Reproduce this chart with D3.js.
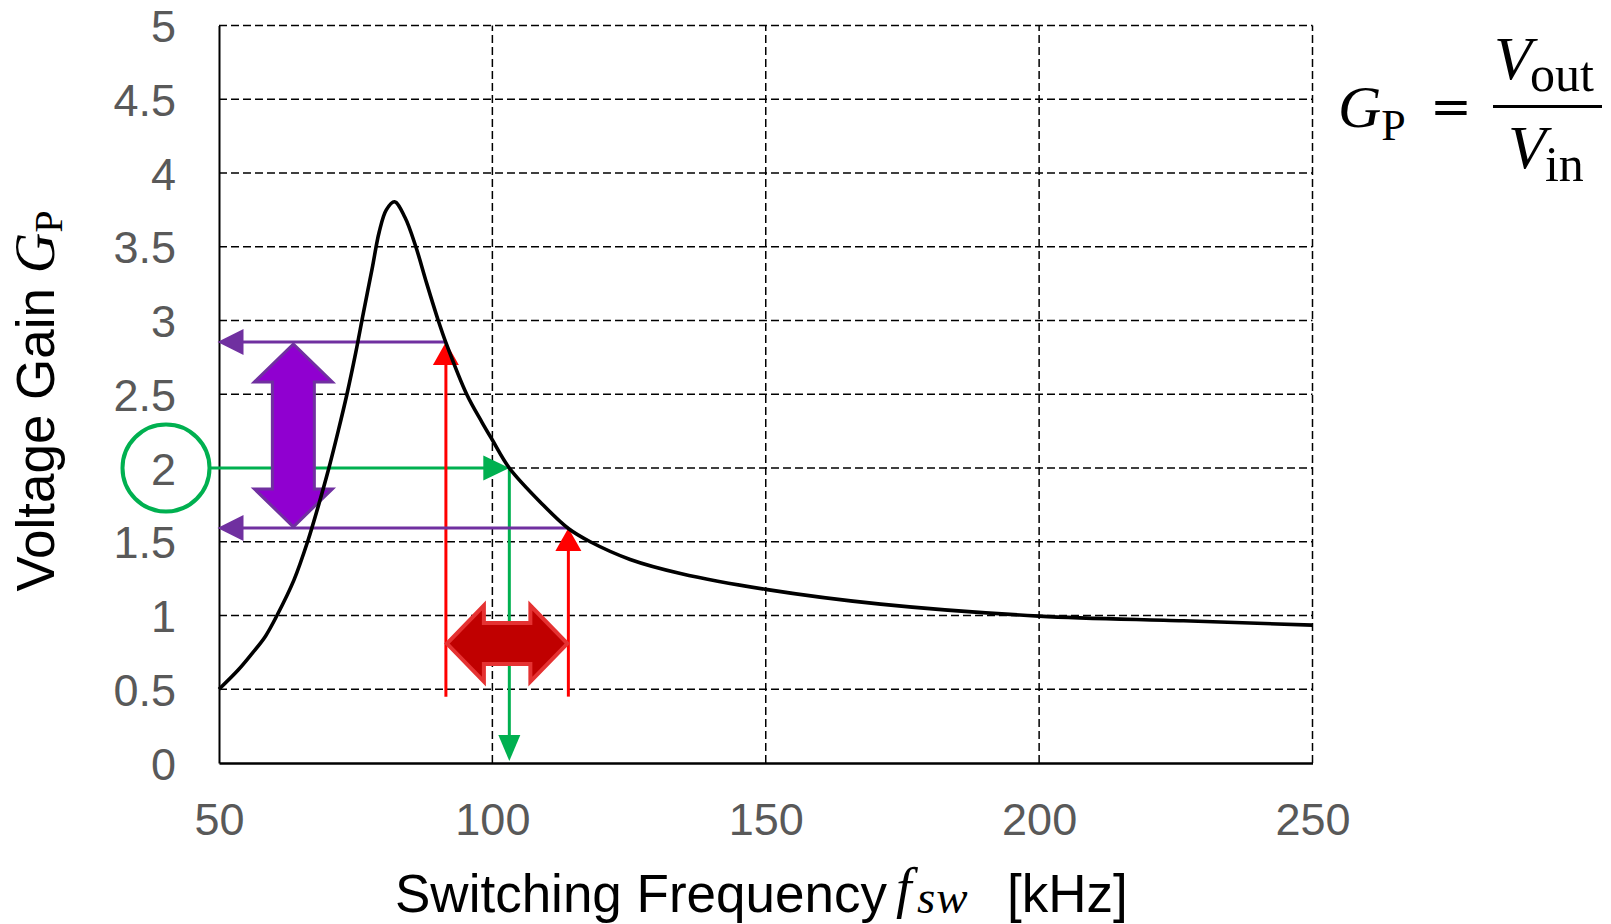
<!DOCTYPE html>
<html>
<head>
<meta charset="utf-8">
<script src="https://cdn.jsdelivr.net/npm/d3@7"></script>
<style>
  body { margin: 0; background: #fff; }
  svg { display: block; }
  .tick-label { font-family: "Liberation Sans", Arial, sans-serif; font-size: 45px; fill: #595959; }
  .axis-title { font-family: "Liberation Sans", Arial, sans-serif; fill: #000; }
  .math { font-family: "Liberation Serif", "DejaVu Serif", serif; fill: #000; }
</style>
</head>
<body>
<div id="chart"></div>
<script>
// gain curve (kHz, Gp)
const freq = [50, 53.5, 56, 58.5, 60.6, 63.7, 66.2, 68.3, 70.1, 71.8, 73.4, 75, 76.4, 78,
  79.3, 80.6, 82.1, 84, 86, 88, 90.1, 91.5, 95.3, 98.1, 100, 103.1, 109, 113.9, 117.9,
  125.2, 134.4, 150, 171, 200, 226.4, 250];
const gain = [0.5, 0.63, 0.74, 0.86, 1.0, 1.24, 1.5, 1.76, 2.0, 2.25, 2.5, 2.78, 3.05, 3.35,
  3.6, 3.75, 3.805, 3.7, 3.5, 3.25, 3.0, 2.85, 2.5, 2.31, 2.19, 2.0, 1.76, 1.59, 1.5,
  1.38, 1.285, 1.177, 1.077, 0.996, 0.964, 0.935];

const xTicks = [50, 100, 150, 200, 250];
const yTicks = [0, 0.5, 1, 1.5, 2, 2.5, 3, 3.5, 4, 4.5, 5];

// annotations
const targetGain = 2;             // circled operating gain
const gainRange = [1.594, 2.854]; // purple band
const freqRange = [91.5, 113.9];  // red band
const opFreq = 103.1;             // frequency where curve hits target gain
const purpleArrowFreq = 63.6;     // x position of the vertical block arrow
const redArrowGain = 0.81;        // y position of the horizontal block arrow
const redLineBottom = 0.45;       // where the red verticals start

const W = 1611, H = 924;
const margin = { top: 25.5, right: 298.5, bottom: 161, left: 219 };

const svg = d3.select("#chart").append("svg")
  .attr("width", W).attr("height", H);

const x = d3.scaleLinear().domain([50, 250]).range([margin.left, W - margin.right]);
const y = d3.scaleLinear().domain([0, 5]).range([H - margin.bottom, margin.top]);

// grid
const grid = svg.append("g").attr("stroke", "#000").attr("stroke-width", 1.5)
  .attr("stroke-dasharray", "8,4").attr("fill", "none");
grid.selectAll(".hg").data(yTicks.filter(d => d > 0)).enter().append("line")
  .attr("x1", x(50)).attr("x2", x(250))
  .attr("y1", d => y(d)).attr("y2", d => y(d));
grid.selectAll(".vg").data(xTicks.filter(d => d > 50)).enter().append("line")
  .attr("y1", y(0)).attr("y2", y(5))
  .attr("x1", d => x(d)).attr("x2", d => x(d));

// axes (solid lines, labels drawn by d3 axis then restyled)
const yAxis = svg.append("g").attr("transform", `translate(${x(50)},0)`)
  .call(d3.axisLeft(y).tickValues(yTicks).tickSize(0).tickPadding(43).tickFormat(d3.format("")));
yAxis.select(".domain").attr("stroke", "#000").attr("stroke-width", 2);
yAxis.selectAll("text").attr("class", "tick-label").attr("font-size", null)
  .attr("font-family", null).attr("fill", null).attr("dy", "0.36em");

const xAxis = svg.append("g").attr("transform", `translate(0,${y(0)})`)
  .call(d3.axisBottom(x).tickValues(xTicks).tickSize(0).tickPadding(40));
xAxis.select(".domain").attr("stroke", "#000").attr("stroke-width", 2.5);
xAxis.selectAll("text").attr("class", "tick-label").attr("font-size", null)
  .attr("font-family", null).attr("fill", null).attr("dy", "0.72em");
svg.selectAll(".domain").each(function () { this.parentNode.appendChild(this); });

// ---- annotations ----
const purple = "#7030a0", green = "#00b050", red = "#ff0000";

function head(g, tx, ty, dir, len, half, color) {
  // simple triangle arrow head with tip at (tx,ty)
  let pts;
  if (dir === "left") pts = [[tx, ty], [tx + len, ty - half], [tx + len, ty + half]];
  if (dir === "right") pts = [[tx, ty], [tx - len, ty - half], [tx - len, ty + half]];
  if (dir === "up") pts = [[tx, ty], [tx - half, ty + len], [tx + half, ty + len]];
  if (dir === "down") pts = [[tx, ty], [tx - half, ty - len], [tx + half, ty - len]];
  g.append("polygon").attr("points", pts.map(p => p.join(",")).join(" ")).attr("fill", color);
}

const ann = svg.append("g");

// green: circle on the "2" label, horizontal to the curve, then down
const cx = x(50) - 53, cy = y(targetGain);
ann.append("line").attr("x1", cx + 43).attr("x2", x(opFreq) - 20)
  .attr("y1", cy).attr("y2", cy).attr("stroke", green).attr("stroke-width", 3);
head(ann, x(opFreq), cy, "right", 26, 12.5, green);
ann.append("line").attr("x1", x(opFreq)).attr("x2", x(opFreq))
  .attr("y1", cy).attr("y2", y(0) - 22).attr("stroke", green).attr("stroke-width", 3);
head(ann, x(opFreq), y(0) - 2, "down", 26, 11, green);
ann.append("circle").attr("cx", cx).attr("cy", cy).attr("r", 43.5)
  .attr("fill", "none").attr("stroke", green).attr("stroke-width", 4);

// red verticals
freqRange.forEach((f, i) => {
  const top = y(gainRange[1 - i]);
  ann.append("line").attr("x1", x(f)).attr("x2", x(f))
    .attr("y1", y(redLineBottom)).attr("y2", top + 18)
    .attr("stroke", red).attr("stroke-width", 3);
  head(ann, x(f), top, "up", 23, 13, red);
});

// purple horizontals
gainRange.forEach((gv, i) => {
  const xr = x(freqRange[1 - i]);
  ann.append("line").attr("x1", x(50) + 20).attr("x2", xr)
    .attr("y1", y(gv)).attr("y2", y(gv))
    .attr("stroke", purple).attr("stroke-width", 3);
  head(ann, x(50) - 1.5, y(gv), "left", 26, 13, purple);
});

// block double arrows
function blockArrow(x0, y0, x1, y1, shaftHalf, headHalf, headLen, fill, stroke, sw) {
  // along x when y0==y1, along y otherwise
  let pts;
  if (y0 === y1) {
    const c = y0;
    pts = [[x0, c], [x0 + headLen, c - headHalf], [x0 + headLen, c - shaftHalf],
      [x1 - headLen, c - shaftHalf], [x1 - headLen, c - headHalf], [x1, c],
      [x1 - headLen, c + headHalf], [x1 - headLen, c + shaftHalf],
      [x0 + headLen, c + shaftHalf], [x0 + headLen, c + headHalf]];
  } else {
    const c = x0;
    pts = [[c, y0], [c + headHalf, y0 + headLen], [c + shaftHalf, y0 + headLen],
      [c + shaftHalf, y1 - headLen], [c + headHalf, y1 - headLen], [c, y1],
      [c - headHalf, y1 - headLen], [c - shaftHalf, y1 - headLen],
      [c - shaftHalf, y0 + headLen], [c - headHalf, y0 + headLen]];
  }
  ann.append("polygon").attr("points", pts.map(p => p.join(",")).join(" "))
    .attr("fill", fill).attr("stroke", stroke).attr("stroke-width", sw)
    .attr("stroke-linejoin", "miter");
}
blockArrow(x(purpleArrowFreq), y(gainRange[1]) + 2, x(purpleArrowFreq), y(gainRange[0]) - 1,
  21, 39, 38, "#9000d0", purple, 3);
blockArrow(x(freqRange[0]) + 1, y(redArrowGain), x(freqRange[1]) - 1, y(redArrowGain),
  20.5, 38, 37, "#c00000", "#e53232", 4);

// gain curve
const pts = freq.map((f, i) => [f, gain[i]]);
svg.append("path").datum(pts)
  .attr("fill", "none").attr("stroke", "#000").attr("stroke-width", 3.6)
  .attr("d", d3.line().x(d => x(d[0])).y(d => y(d[1])).curve(d3.curveCatmullRom.alpha(0.5)));

// axis titles
svg.append("text").attr("class", "axis-title").attr("x", 395).attr("y", 912)
  .attr("font-size", 53).text("Switching Frequency");
svg.append("text").attr("class", "math").attr("x", 896).attr("y", 907)
  .attr("font-style", "italic").attr("font-size", 56).text("f");
svg.append("text").attr("class", "math").attr("x", 917).attr("y", 913)
  .attr("font-style", "italic").attr("font-size", 47).attr("letter-spacing", 1).text("sw");
svg.append("text").attr("class", "axis-title").attr("x", 1007).attr("y", 912)
  .attr("font-size", 53).text("[kHz]");

const yt = svg.append("text").attr("class", "axis-title")
  .attr("transform", `translate(54,401) rotate(-90)`)
  .attr("text-anchor", "middle").attr("font-size", 53);
yt.append("tspan").text("Voltage Gain ");
yt.append("tspan").attr("class", "math").attr("font-style", "italic").attr("font-size", 56).text("G");
yt.append("tspan").attr("class", "math").attr("font-size", 40).attr("dy", 8).text("P");

// formula Gp = Vout / Vin
const fm = svg.append("g").attr("class", "math");
const gp = fm.append("text").attr("x", 1338).attr("y", 127).attr("font-size", 60);
gp.append("tspan").attr("font-style", "italic").text("G");
gp.append("tspan").attr("font-size", 44).attr("dy", 13).text("P");
fm.append("text").attr("x", 1451).attr("y", 124).attr("text-anchor", "middle")
  .attr("font-family", "DejaVu Serif").attr("font-size", 50).text("=");
fm.append("line").attr("x1", 1493).attr("x2", 1602).attr("y1", 106.5).attr("y2", 106.5)
  .attr("stroke", "#000").attr("stroke-width", 3);
const num = fm.append("text").attr("x", 1494).attr("y", 79).attr("font-size", 62);
num.append("tspan").attr("font-style", "italic").text("V");
num.append("tspan").attr("font-size", 50).attr("dy", 12).attr("dx", -2).text("out");
const den = fm.append("text").attr("x", 1508).attr("y", 168).attr("font-size", 62);
den.append("tspan").attr("font-style", "italic").text("V");
den.append("tspan").attr("font-size", 50).attr("dy", 13).attr("dx", -1).text("in");
</script>
</body>
</html>
